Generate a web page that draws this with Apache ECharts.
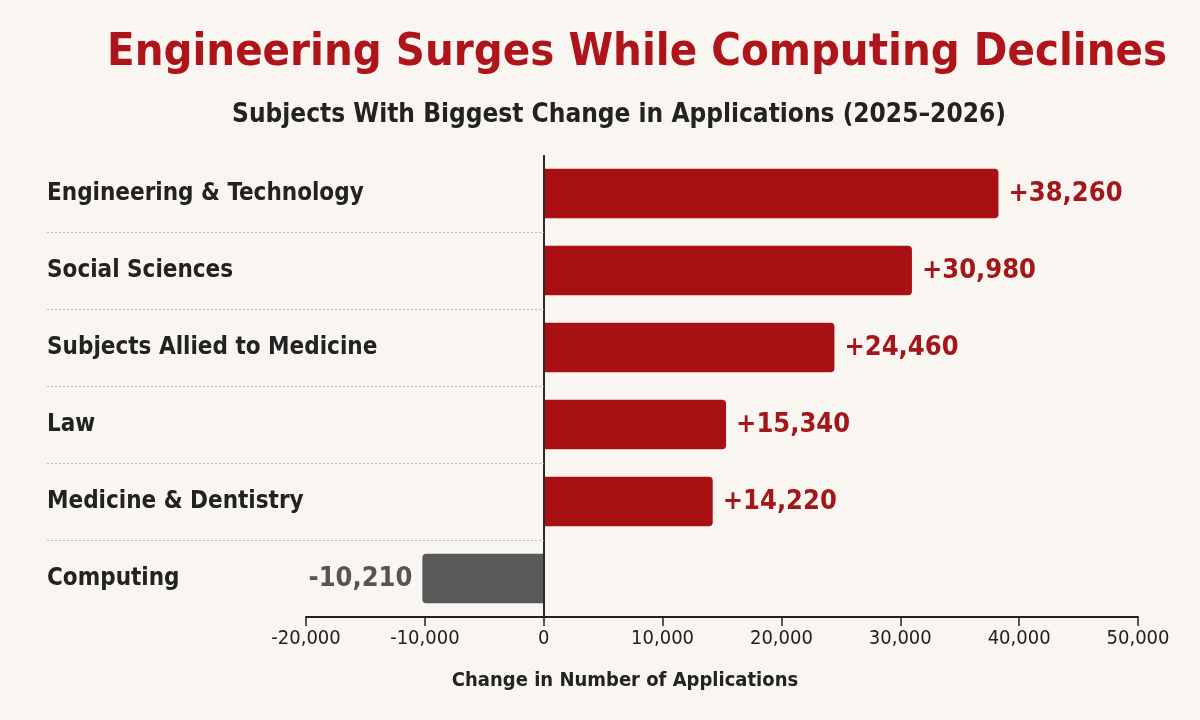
<!DOCTYPE html>
<html>
<head>
<meta charset="utf-8">
<script src="https://cdn.jsdelivr.net/npm/echarts@6/dist/echarts.min.js"></script>
<style>
html,body{margin:0;padding:0;background:#F9F6F1;}
#chart{width:1200px;height:720px;}
</style>
</head>
<body>
<div id="chart"></div>
<script>
const categories = ['Engineering & Technology', 'Social Sciences', 'Subjects Allied to Medicine', 'Law', 'Medicine & Dentistry', 'Computing'];
const values = [38260, 30980, 24460, 15340, 14220, -10210];
const xTicks = { min: -20000, max: 50000, interval: 10000 };
const titleText = 'Engineering Surges While Computing Declines';
const subtitleText = 'Subjects With Biggest Change in Applications (2025\u20132026)';
const xAxisName = 'Change in Number of Applications';

const FONT = '"DejaVu Sans Condensed", "Liberation Sans Narrow", "Roboto", sans-serif';
const RED = '#A81014';
const RED_TEXT = '#A3161A';
const GRAY = '#595959';
const GRAY_TEXT = '#555555';
const INK = '#222222';

const GRID_LEFT = 306, GRID_RIGHT = 62, GRID_TOP = 155, GRID_BOTTOM = 103;
const plotW = 1200 - GRID_LEFT - GRID_RIGHT;
const zeroX = GRID_LEFT + plotW * (0 - xTicks.min) / (xTicks.max - xTicks.min);

const fmt = v => (v > 0 ? '+' : v < 0 ? '-' : '') + Math.abs(v).toLocaleString('en-US');

const barData = values.map(v => ({
  value: v,
  itemStyle: {
    color: v < 0 ? GRAY : RED,
    borderRadius: v < 0 ? [4, 0, 0, 4] : [0, 4, 4, 0]
  },
  label: {
    position: v < 0 ? 'left' : 'right',
    color: v < 0 ? GRAY_TEXT : RED_TEXT
  }
}));

const boundaries = categories.slice(1).map((_, i) => ({ yAxis: i + 1 }));

const chart = echarts.init(document.getElementById('chart'), null, { renderer: 'canvas' });
chart.setOption({
  backgroundColor: '#F9F6F1',
  animation: false,
  title: [
    {
      text: titleText,
      left: 632, top: 26, textAlign: 'center',
      textStyle: { fontFamily: FONT, fontWeight: 'bold', fontSize: 45, color: '#B0141B' }
    },
    {
      text: subtitleText,
      left: 614, top: 97, textAlign: 'center',
      textStyle: { fontFamily: FONT, fontWeight: 'bold', fontSize: 26, color: INK }
    },
    {
      text: xAxisName,
      left: 620, top: 666, textAlign: 'center',
      textStyle: { fontFamily: FONT, fontWeight: 'bold', fontSize: 20, color: INK }
    }
  ],
  grid: [
    { left: GRID_LEFT, right: GRID_RIGHT, top: GRID_TOP, bottom: GRID_BOTTOM, containLabel: false },
    { left: 47, width: zeroX - 47, top: GRID_TOP, bottom: GRID_BOTTOM, containLabel: false }
  ],
  xAxis: [
    {
      gridIndex: 0, type: 'value',
      min: xTicks.min, max: xTicks.max, interval: xTicks.interval,
      axisLine: { show: true, onZero: false, lineStyle: { color: '#222', width: 2 } },
      axisTick: { show: true, length: 9, lineStyle: { color: '#222', width: 1.5 } },
      splitLine: { show: false },
      axisLabel: {
        margin: 12,
        fontFamily: FONT, fontSize: 20, color: INK,
        formatter: v => (v < 0 ? '-' : '') + Math.abs(v).toLocaleString('en-US')
      }
    },
    { gridIndex: 1, type: 'value', min: 0, max: 1, show: false }
  ],
  yAxis: [
    {
      gridIndex: 0, type: 'category', data: categories, inverse: true,
      axisLine: { show: false, onZero: false },
      axisTick: { show: false },
      splitLine: { show: false },
      axisLabel: {
        align: 'left', margin: GRID_LEFT - 47,
        fontFamily: FONT, fontWeight: 'bold', fontSize: 24, color: INK
      }
    },
    { gridIndex: 1, type: 'value', min: 0, max: categories.length, inverse: true, show: false }
  ],
  series: [
    {
      type: 'bar',
      xAxisIndex: 0, yAxisIndex: 0,
      data: barData,
      barCategoryGap: '36%',
      label: {
        show: true, distance: 10,
        fontFamily: FONT, fontWeight: 'bold', fontSize: 27,
        formatter: p => fmt(p.value)
      },
      markLine: {
        silent: true, symbol: 'none',
        label: { show: false },
        lineStyle: { color: '#2a2a2a', width: 2, type: 'solid' },
        data: [{ xAxis: 0 }]
      }
    },
    {
      type: 'scatter',
      xAxisIndex: 1, yAxisIndex: 1,
      data: [],
      markLine: {
        silent: true, symbol: 'none',
        label: { show: false },
        lineStyle: { color: '#BDBAB4', width: 1, type: [2, 2] },
        data: boundaries
      }
    }
  ]
});
</script>
</body>
</html>
